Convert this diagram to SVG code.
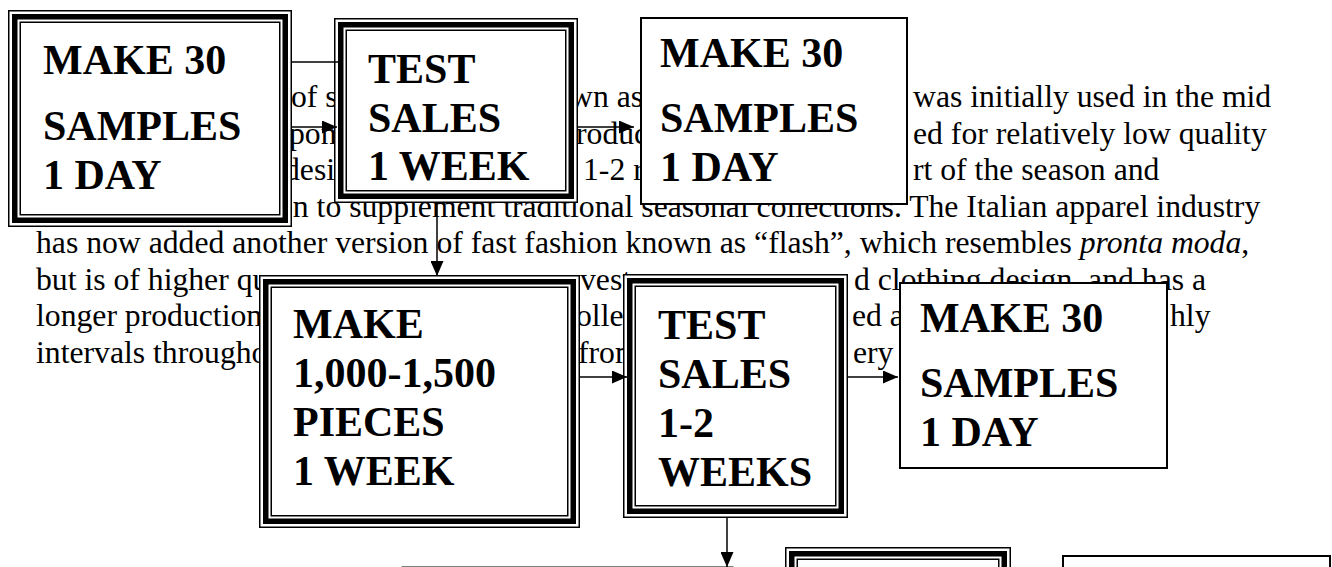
<svg xmlns="http://www.w3.org/2000/svg" width="1332" height="567" viewBox="0 0 1332 567">
<style>
.b{font-family:"Liberation Serif","Times New Roman",serif;font-weight:bold;font-size:42px;fill:#000}
.t{font-family:"Liberation Serif","Times New Roman",serif;font-size:31.7px;fill:#000}
.o{fill:#fff;stroke:#000;stroke-width:1.5}
.k{fill:none;stroke:#000;stroke-width:5.5}
.i{fill:none;stroke:#000;stroke-width:1.5}
.s{fill:#fff;stroke:#000;stroke-width:2}
.c{stroke:#000;stroke-width:1.5;fill:none}
</style>
<defs>
<marker id="ah" markerUnits="userSpaceOnUse" markerWidth="15" markerHeight="13" refX="15" refY="6.5" orient="auto"><path d="M0,0 L15,6.5 L0,13 z" fill="#000"/></marker>
</defs>
<rect width="1332" height="567" fill="#fff"/>
<g id="body-text" class="t">
<text x="291" y="107">of s</text>
<text x="570" y="107">wn as</text>
<text x="913" y="107">was initially used in the mid</text>
<text x="289" y="143.5">pons</text>
<text x="576" y="143.5">roduc</text>
<text x="913" y="143.5">ed for relatively low quality</text>
<text x="284" y="180">desig</text>
<text x="583" y="180">1-2 r</text>
<text x="913" y="180">rt of the season and</text>
<text x="277" y="216.5">on to supplement traditional seasonal collections. The Italian apparel industry</text>
<text x="36" y="253">has now added another version of fast fashion known as “flash”, which resembles <tspan font-style="italic">pronta moda</tspan>,</text>
<text x="36" y="289.5">but is of higher qu</text>
<text x="580" y="289.5">vest</text>
<text x="854" y="289.5">d clothing design, and has a</text>
<text x="36" y="326">longer production</text>
<text x="576" y="326">olled</text>
<text x="852" y="326">ed an</text>
<text x="1170" y="326">hly</text>
<text x="36" y="362.5">intervals througho</text>
<text x="578" y="362.5">from</text>
<text x="853" y="362.5">ery c</text>
</g>
<g id="node1">
<rect class="o" x="8.75" y="10.75" width="282.5" height="215.5"/>
<rect class="k" x="14.75" y="16.75" width="270.5" height="203.5"/>
<rect class="i" x="20.25" y="22.25" width="259.5" height="192.5"/>
<text class="b" x="43" y="74">MAKE 30</text>
<text class="b" x="43" y="140">SAMPLES</text>
<text class="b" x="43" y="189">1 DAY</text>
</g>
<g id="node2">
<rect class="o" x="334.75" y="18.75" width="242.5" height="183.5"/>
<rect class="k" x="340.75" y="24.75" width="230.5" height="171.5"/>
<rect class="i" x="346.25" y="30.25" width="219.5" height="160.5"/>
<text class="b" x="368" y="83">TEST</text>
<text class="b" x="368" y="132">SALES</text>
<text class="b" x="368" y="180">1 WEEK</text>
</g>
<g id="node3">
<rect class="s" x="641" y="18" width="266" height="186"/>
<text class="b" x="660" y="67">MAKE 30</text>
<text class="b" x="660" y="132">SAMPLES</text>
<text class="b" x="660" y="181">1 DAY</text>
</g>
<g id="node4">
<rect class="o" x="259.75" y="275.75" width="319.5" height="251.5"/>
<rect class="k" x="265.75" y="281.75" width="307.5" height="239.5"/>
<rect class="i" x="271.25" y="287.25" width="296.5" height="228.5"/>
<text class="b" x="293" y="338">MAKE</text>
<text class="b" x="293" y="387">1,000-1,500</text>
<text class="b" x="293" y="436">PIECES</text>
<text class="b" x="293" y="485">1 WEEK</text>
</g>
<g id="node5">
<rect class="o" x="623.75" y="274.75" width="223.5" height="242.5"/>
<rect class="k" x="629.75" y="280.75" width="211.5" height="230.5"/>
<rect class="i" x="635.25" y="286.25" width="200.5" height="219.5"/>
<text class="b" x="658" y="339">TEST</text>
<text class="b" x="658" y="388">SALES</text>
<text class="b" x="658" y="437">1-2</text>
<text class="b" x="658" y="486">WEEKS</text>
</g>
<g id="node6">
<rect class="s" x="900" y="283" width="267" height="185"/>
<text class="b" x="920" y="332">MAKE 30</text>
<text class="b" x="920" y="397">SAMPLES</text>
<text class="b" x="920" y="446">1 DAY</text>
</g>
<g id="node7">
<rect fill="#fff" stroke="#000" stroke-width="1" x="402" y="567" width="331" height="60"/>
</g>
<g id="node8">
<rect class="o" x="785.75" y="547.75" width="224.5" height="98.5"/>
<rect class="k" x="791.75" y="553.75" width="212.5" height="86.5"/>
<rect class="i" x="797.25" y="559.25" width="201.5" height="75.5"/>
</g>
<g id="node9">
<rect class="s" x="1063" y="556" width="267" height="60"/>
</g>
<g id="connectors" class="c">
<line x1="292" y1="62" x2="340" y2="62"/>
<line x1="292" y1="127" x2="337" y2="127" marker-end="url(#ah)"/>
<line x1="578" y1="127" x2="634" y2="127" marker-end="url(#ah)"/>
<line x1="437" y1="203" x2="437" y2="276" marker-end="url(#ah)"/>
<line x1="580" y1="377" x2="627" y2="377" marker-end="url(#ah)"/>
<line x1="848" y1="377" x2="898" y2="377" marker-end="url(#ah)"/>
<line x1="727" y1="518" x2="727" y2="567" marker-end="url(#ah)"/>
</g>
</svg>
